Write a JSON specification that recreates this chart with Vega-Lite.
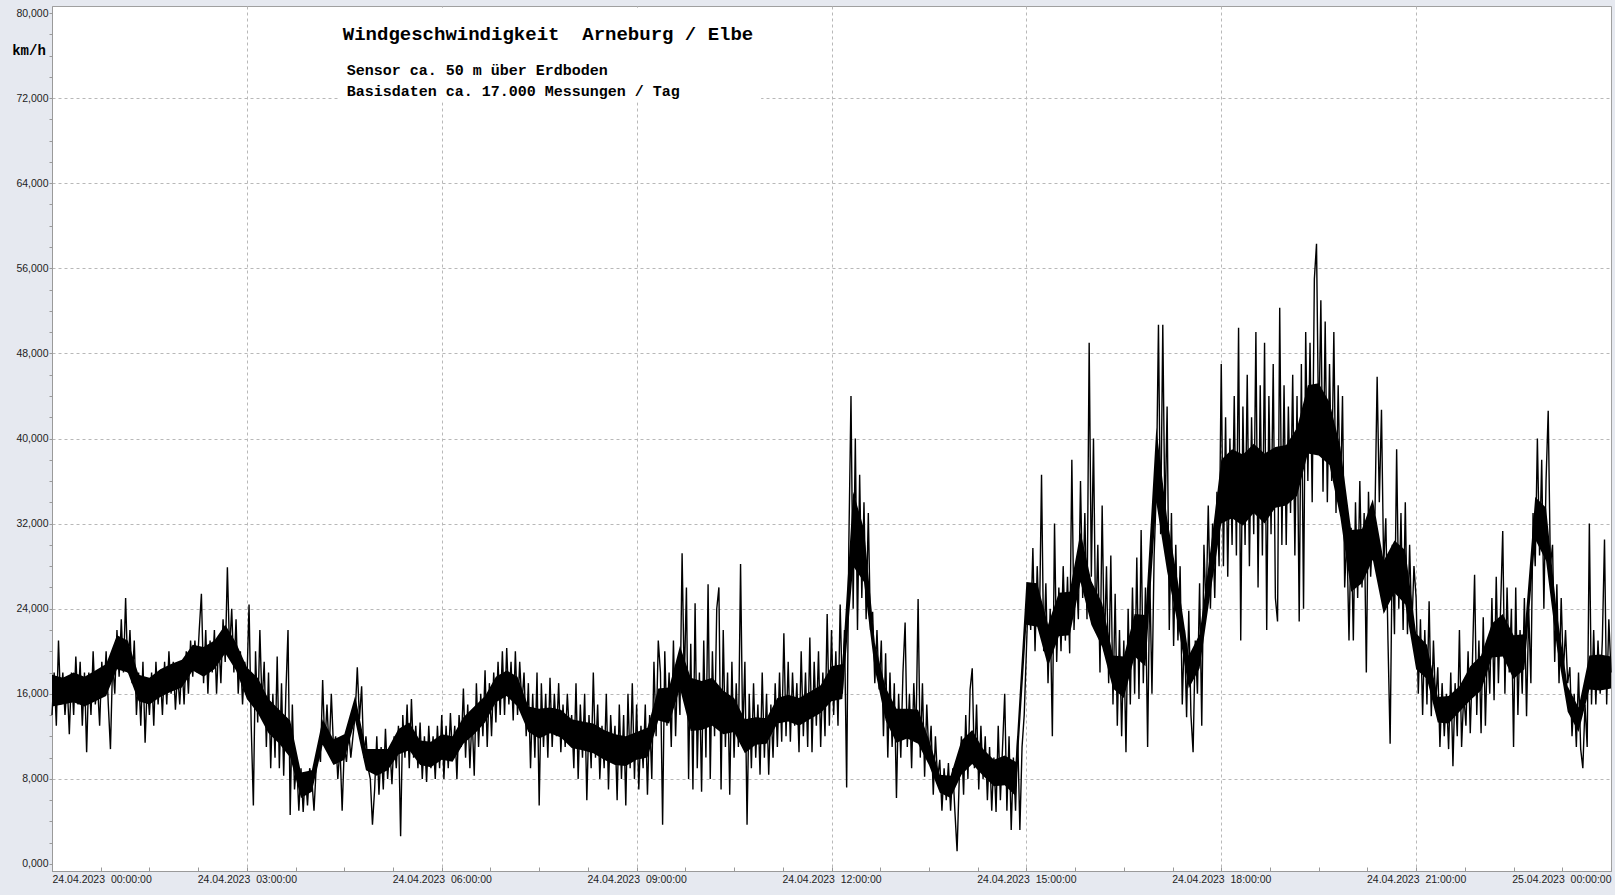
{
"$schema": "https://vega.github.io/schema/vega-lite/v6.json",
"width": 1559, "height": 865,
"autosize": {"type": "none"},
"padding": {"left": 52, "top": 6, "right": 4, "bottom": 24},
"background": "#e6e9f0",
"config": {"view": {"stroke": "#a0a0a0", "fill": "#ffffff"}},
"encoding": {
 "x": {"field": "m", "type": "quantitative", "scale": {"domain": [0, 1440], "nice": false, "zero": false},
  "axis": {"values": [0,45,90,135,180,225,270,315,360,405,450,495,540,585,630,675,720,765,810,855,900,945,990,1035,1080,1125,1170,1215,1260,1305,1350,1395,1440],
   "labelExpr": "datum.value % 180 != 0 ? '' : (datum.value == 1440 ? '25.04.2023\u00a0 00:00:00' : '24.04.2023\u00a0 ' + (datum.value < 600 ? '0' : '') + (datum.value/60) + ':00:00')",
   "grid": true, "gridOpacity": {"condition": {"test": "datum.value % 180 == 0 && datum.value > 0 && datum.value < 1440", "value": 1}, "value": 0},
   "gridDash": [3,3], "gridColor": "#b8b8b8", "tickSize": -4, "tickColor": "#9a9a9a", "domainColor": "#9a9a9a",
   "labelFont": "Liberation Sans", "labelFontSize": 10.5, "labelColor": "#222222", "labelPadding": 7, "labelFlush": true, "labelOverlap": false, "title": null}},
 "y": {"field": "v", "type": "quantitative", "scale": {"domain": [-0.66, 80.66], "nice": false, "zero": false},
  "axis": {"values": [0,2,4,6,8,10,12,14,16,18,20,22,24,26,28,30,32,34,36,38,40,42,44,46,48,50,52,54,56,58,60,62,64,66,68,70,72,74,76,78,80],
   "labelExpr": "datum.value % 8 == 0 ? replace(format(datum.value, '.3f'), '.', ',') : ''",
   "grid": true, "gridOpacity": {"condition": {"test": "datum.value % 8 == 0 && datum.value > 0 && datum.value < 80", "value": 1}, "value": 0},
   "gridDash": [3,3], "gridColor": "#b8b8b8", "tickSize": 3, "tickColor": "#9a9a9a", "domainColor": "#9a9a9a",
   "labelFont": "Liberation Sans", "labelFontSize": 10.5, "labelColor": "#222222", "labelPadding": 1, "labelOverlap": false,
   "title": "km/h", "titleFont": "Liberation Mono", "titleFontSize": 14, "titleFontWeight": "bold", "titleColor": "#000000",
   "titleAngle": 0, "titleX": -23.5, "titleY": 44.7, "titleAlign": "center", "titleBaseline": "middle"}}
},
"layer": [
 {"data": {"values": [{"m": 266, "m2": 655, "v": 71.6, "v2": 80.5}]},
  "mark": {"type": "rect", "fill": "#ffffff"},
  "encoding": {"x2": {"field": "m2"}, "y2": {"field": "v2"}}},
 {"data": {"values": [
{"m":0,"v":14.8,"v2":17.8},{"m":10,"v":15,"v2":17.5},{"m":20,"v":15.2,"v2":18},{"m":30,"v":14.8,"v2":17.6},{"m":40,"v":15.3,"v2":18.2},{"m":50,"v":15.8,"v2":18.8},{"m":60,"v":18.3,"v2":21.5},{"m":70,"v":18,"v2":21},{"m":80,"v":15.3,"v2":17.8},{"m":90,"v":15,"v2":17.5},{"m":100,"v":15.7,"v2":18.3},{"m":110,"v":16.2,"v2":18.8},{"m":120,"v":16.6,"v2":19.2},{"m":130,"v":18.2,"v2":20.6},{"m":140,"v":17.6,"v2":20.4},{"m":150,"v":18.3,"v2":21},{"m":160,"v":19.8,"v2":22.5},{"m":170,"v":18.2,"v2":20.8},{"m":180,"v":15.5,"v2":18.5},{"m":190,"v":14.2,"v2":17.5},{"m":200,"v":12.3,"v2":15.5},{"m":210,"v":11.3,"v2":14.5},{"m":220,"v":10,"v2":13.5},{"m":230,"v":6.2,"v2":8.6},
{"m":240,"v":6.8,"v2":8.8},{"m":250,"v":11.2,"v2":13.6},{"m":260,"v":9.3,"v2":11.7},{"m":270,"v":9.8,"v2":12.2},{"m":280,"v":13.5,"v2":15.8},{"m":290,"v":8.8,"v2":10.8},{"m":300,"v":8.3,"v2":10.8},{"m":310,"v":8.8,"v2":10.8},{"m":320,"v":10.3,"v2":12.7},{"m":330,"v":10.7,"v2":13.3},{"m":340,"v":9.3,"v2":11.6},{"m":350,"v":9.1,"v2":11.5},{"m":360,"v":9.8,"v2":12.2},{"m":370,"v":9.6,"v2":12},{"m":380,"v":11.3,"v2":13.8},{"m":390,"v":12.2,"v2":14.8},{"m":400,"v":13.3,"v2":15.8},{"m":410,"v":15.2,"v2":17.6},{"m":420,"v":15.8,"v2":18.2},{"m":430,"v":14.8,"v2":17.6},{"m":440,"v":12.4,"v2":14.8},{"m":450,"v":11.8,"v2":14.6},{"m":460,"v":12.3,"v2":14.7},{"m":470,"v":11.9,"v2":14.5},
{"m":480,"v":10.9,"v2":13.6},{"m":490,"v":10.7,"v2":13.4},{"m":500,"v":10.4,"v2":13.2},{"m":510,"v":9.8,"v2":12.6},{"m":520,"v":9.3,"v2":12.2},{"m":530,"v":9.2,"v2":12},{"m":540,"v":9.8,"v2":12.4},{"m":550,"v":10,"v2":12.8},{"m":560,"v":13.5,"v2":16.5},{"m":570,"v":13.2,"v2":16.6},{"m":580,"v":16.5,"v2":20.5},{"m":590,"v":12.5,"v2":17.5},{"m":600,"v":12.6,"v2":17.2},{"m":610,"v":13,"v2":17.5},{"m":620,"v":12.2,"v2":16.3},{"m":630,"v":12.4,"v2":15.6},{"m":640,"v":10.4,"v2":13.6},{"m":650,"v":11.2,"v2":13.8},{"m":660,"v":11.3,"v2":13.7},{"m":670,"v":13.2,"v2":15.6},{"m":680,"v":13.4,"v2":15.9},{"m":690,"v":13,"v2":15.6},{"m":700,"v":13.6,"v2":16.2},{"m":710,"v":14.2,"v2":16.8},
{"m":720,"v":15.3,"v2":18.6},{"m":730,"v":15.5,"v2":18.8},{"m":740,"v":28,"v2":35},{"m":750,"v":26.5,"v2":31.5},{"m":760,"v":18.3,"v2":20.8},{"m":770,"v":13.5,"v2":16.6},{"m":780,"v":11.4,"v2":14.6},{"m":790,"v":11.8,"v2":14.6},{"m":800,"v":11.3,"v2":14.5},{"m":810,"v":9.3,"v2":11.7},{"m":820,"v":6.7,"v2":8.4},{"m":830,"v":6.2,"v2":8.3},{"m":840,"v":8.4,"v2":11.6},{"m":850,"v":9.4,"v2":12.6},{"m":860,"v":8.3,"v2":10.8},{"m":870,"v":7.3,"v2":9.8},{"m":880,"v":7.4,"v2":10.2},{"m":890,"v":6.4,"v2":9.6},{"m":900,"v":22.5,"v2":26.5},{"m":910,"v":22.3,"v2":26.4},{"m":920,"v":18.6,"v2":22.5},{"m":930,"v":21.4,"v2":25.5},{"m":940,"v":21.5,"v2":25.6},{"m":950,"v":26.5,"v2":31.2},
{"m":960,"v":22.5,"v2":26.6},{"m":970,"v":20.4,"v2":24.5},{"m":980,"v":16.5,"v2":19.6},{"m":990,"v":15.6,"v2":19.5},{"m":1000,"v":19.5,"v2":23.5},{"m":1010,"v":18.6,"v2":23.4},{"m":1020,"v":34,"v2":41},{"m":1030,"v":27.5,"v2":32.5},{"m":1040,"v":22.5,"v2":26.5},{"m":1050,"v":16.5,"v2":19.6},{"m":1060,"v":18.4,"v2":21.6},{"m":1070,"v":25.5,"v2":29.5},{"m":1080,"v":32,"v2":38},{"m":1090,"v":32.5,"v2":39},{"m":1100,"v":31.8,"v2":38.5},{"m":1110,"v":33,"v2":39.5},{"m":1120,"v":32,"v2":38.6},{"m":1130,"v":33.5,"v2":39.2},{"m":1140,"v":33.7,"v2":39.4},{"m":1150,"v":34.6,"v2":41},{"m":1160,"v":38.6,"v2":45},{"m":1170,"v":38.4,"v2":45.2},{"m":1180,"v":37.5,"v2":43.4},{"m":1190,"v":32.6,"v2":39.2},
{"m":1200,"v":25.6,"v2":31.4},{"m":1210,"v":26.4,"v2":31.5},{"m":1220,"v":28.6,"v2":34.3},{"m":1230,"v":23.5,"v2":28.5},{"m":1240,"v":25.5,"v2":30.4},{"m":1250,"v":24.4,"v2":29.5},{"m":1260,"v":18.3,"v2":21.7},{"m":1270,"v":17.4,"v2":20.6},{"m":1280,"v":13.3,"v2":15.7},{"m":1290,"v":13.2,"v2":15.8},{"m":1300,"v":14.3,"v2":16.7},{"m":1310,"v":15.4,"v2":18.6},{"m":1320,"v":16.3,"v2":19.6},{"m":1330,"v":19.4,"v2":22.6},{"m":1340,"v":19.5,"v2":23.5},{"m":1350,"v":17.4,"v2":21.5},{"m":1360,"v":18.3,"v2":21.6},{"m":1370,"v":30.5,"v2":34.5},{"m":1380,"v":28.5,"v2":33.5},{"m":1390,"v":20.4,"v2":23.6},{"m":1400,"v":14.3,"v2":16.7},{"m":1410,"v":12.4,"v2":14.7},{"m":1420,"v":16.4,"v2":19.6},{"m":1430,"v":16.3,"v2":19.7},{"m":1440,"v":16.5,"v2":19.5}
 ]},
  "mark": {"type": "area", "color": "#000000", "opacity": 1},
  "encoding": {"y2": {"field": "v2"}}},
 {"data": {"values": [
{"m":0,"v":14},{"m":2,"v":18},{"m":4,"v":13},{"m":6,"v":21},{"m":8,"v":15},{"m":10,"v":18},{"m":12,"v":14},{"m":14,"v":17},{"m":16,"v":12.2},{"m":18,"v":18},{"m":20,"v":14},{"m":22,"v":19.5},{"m":24,"v":15},{"m":26,"v":19},{"m":28,"v":13},{"m":30,"v":18},{"m":32,"v":10.5},{"m":34,"v":18},{"m":36,"v":14},{"m":38,"v":20},{"m":40,"v":15},{"m":42,"v":17},{"m":44,"v":13},{"m":46,"v":19},{"m":48,"v":16},{"m":50,"v":20},{"m":52,"v":15},{"m":54,"v":10.8},{"m":56,"v":19},{"m":58,"v":16},
{"m":60,"v":22},{"m":62,"v":17.6},{"m":64,"v":23},{"m":66,"v":18},{"m":68,"v":25},{"m":70,"v":18},{"m":72,"v":22},{"m":74,"v":17},{"m":76,"v":21},{"m":78,"v":14},{"m":80,"v":18},{"m":82,"v":13},{"m":84,"v":19},{"m":86,"v":11.4},{"m":88,"v":17},{"m":90,"v":14},{"m":92,"v":18},{"m":94,"v":13},{"m":96,"v":19},{"m":98,"v":15},{"m":100,"v":18},{"m":102,"v":14},{"m":104,"v":19},{"m":106,"v":15},{"m":108,"v":20},{"m":110,"v":16},{"m":112,"v":19},{"m":114,"v":14.5},{"m":116,"v":18},{"m":118,"v":15},
{"m":120,"v":19},{"m":122,"v":15},{"m":124,"v":20},{"m":126,"v":16},{"m":128,"v":21},{"m":130,"v":17.6},{"m":132,"v":21},{"m":134,"v":18},{"m":136,"v":22},{"m":138,"v":25.4},{"m":140,"v":17},{"m":142,"v":22},{"m":144,"v":16},{"m":146,"v":21},{"m":148,"v":18},{"m":150,"v":22},{"m":152,"v":16},{"m":154,"v":21},{"m":156,"v":17},{"m":158,"v":23},{"m":160,"v":19},{"m":162,"v":27.9},{"m":164,"v":20},{"m":166,"v":24},{"m":168,"v":18},{"m":170,"v":23},{"m":172,"v":16},{"m":174,"v":20},{"m":176,"v":15},{"m":178,"v":19},
{"m":180,"v":17},{"m":182,"v":24.4},{"m":184,"v":13},{"m":186,"v":5.5},{"m":188,"v":20},{"m":190,"v":13.3},{"m":192,"v":22},{"m":194,"v":15},{"m":196,"v":19},{"m":198,"v":11},{"m":200,"v":18},{"m":202,"v":9},{"m":204,"v":16},{"m":206,"v":10},{"m":208,"v":19.5},{"m":210,"v":9},{"m":212,"v":17},{"m":214,"v":8.3},{"m":216,"v":16},{"m":218,"v":22},{"m":220,"v":4.6},{"m":222,"v":15},{"m":224,"v":7},{"m":226,"v":9.6},{"m":228,"v":5},{"m":230,"v":9},{"m":232,"v":4.9},{"m":234,"v":8.5},{"m":236,"v":5.5},{"m":238,"v":9},
{"m":240,"v":8},{"m":242,"v":5},{"m":244,"v":9},{"m":246,"v":11},{"m":248,"v":9.6},{"m":250,"v":17.3},{"m":252,"v":11},{"m":254,"v":15},{"m":256,"v":10.5},{"m":258,"v":16},{"m":260,"v":11},{"m":262,"v":12},{"m":264,"v":8},{"m":266,"v":11},{"m":268,"v":5},{"m":270,"v":11},{"m":272,"v":9.6},{"m":274,"v":12.7},{"m":276,"v":10},{"m":278,"v":12},{"m":280,"v":14},{"m":282,"v":18.5},{"m":284,"v":13.6},{"m":286,"v":16.7},{"m":288,"v":10},{"m":290,"v":12},{"m":292,"v":9},{"m":294,"v":8},{"m":296,"v":3.7},{"m":298,"v":7},
{"m":300,"v":12},{"m":302,"v":6.5},{"m":304,"v":11},{"m":306,"v":7},{"m":308,"v":12.7},{"m":310,"v":8},{"m":312,"v":11},{"m":314,"v":7.5},{"m":316,"v":12},{"m":318,"v":9},{"m":320,"v":13},{"m":322,"v":2.6},{"m":324,"v":14},{"m":326,"v":10},{"m":328,"v":15},{"m":330,"v":9},{"m":332,"v":15.5},{"m":334,"v":10},{"m":336,"v":13},{"m":338,"v":9},{"m":340,"v":13.3},{"m":342,"v":8},{"m":344,"v":12},{"m":346,"v":7.7},{"m":348,"v":13},{"m":350,"v":9},{"m":352,"v":12},{"m":354,"v":8},{"m":356,"v":13},{"m":358,"v":9},
{"m":360,"v":14},{"m":362,"v":8},{"m":364,"v":13},{"m":366,"v":9},{"m":368,"v":14.2},{"m":370,"v":10},{"m":372,"v":13},{"m":374,"v":8},{"m":376,"v":14},{"m":378,"v":11},{"m":380,"v":16.5},{"m":382,"v":10},{"m":384,"v":15},{"m":386,"v":9},{"m":388,"v":14},{"m":390,"v":8.3},{"m":392,"v":17},{"m":394,"v":11},{"m":396,"v":16},{"m":398,"v":12},{"m":400,"v":18.2},{"m":402,"v":11},{"m":404,"v":17},{"m":406,"v":12},{"m":408,"v":18},{"m":410,"v":13.3},{"m":412,"v":19},{"m":414,"v":14},{"m":416,"v":20},{"m":418,"v":14},
{"m":420,"v":20.3},{"m":422,"v":15},{"m":424,"v":19},{"m":426,"v":13.5},{"m":428,"v":20},{"m":430,"v":14},{"m":432,"v":19},{"m":434,"v":15},{"m":436,"v":18},{"m":438,"v":12},{"m":440,"v":17},{"m":442,"v":9},{"m":444,"v":16},{"m":446,"v":10},{"m":448,"v":18},{"m":450,"v":5.5},{"m":452,"v":17},{"m":454,"v":11},{"m":456,"v":16},{"m":458,"v":10},{"m":460,"v":17.5},{"m":462,"v":11},{"m":464,"v":16},{"m":466,"v":12},{"m":468,"v":17},{"m":470,"v":10.5},{"m":472,"v":15},{"m":474,"v":11},{"m":476,"v":16},{"m":478,"v":12},
{"m":480,"v":14},{"m":482,"v":9},{"m":484,"v":17},{"m":486,"v":8},{"m":488,"v":15},{"m":490,"v":10},{"m":492,"v":16},{"m":494,"v":6},{"m":496,"v":14},{"m":498,"v":9},{"m":500,"v":18},{"m":502,"v":10},{"m":504,"v":15},{"m":506,"v":8},{"m":508,"v":13},{"m":510,"v":9},{"m":512,"v":16},{"m":514,"v":7},{"m":516,"v":14},{"m":518,"v":10},{"m":520,"v":13},{"m":522,"v":6},{"m":524,"v":15},{"m":526,"v":8},{"m":528,"v":14},{"m":530,"v":5.5},{"m":532,"v":16},{"m":534,"v":9},{"m":536,"v":17},{"m":538,"v":8},
{"m":540,"v":15},{"m":542,"v":7},{"m":544,"v":13},{"m":546,"v":9},{"m":548,"v":15},{"m":550,"v":6.5},{"m":552,"v":14},{"m":554,"v":8},{"m":556,"v":19},{"m":558,"v":12},{"m":560,"v":21},{"m":562,"v":18},{"m":564,"v":3.7},{"m":566,"v":20},{"m":568,"v":13},{"m":570,"v":18},{"m":572,"v":11},{"m":574,"v":21},{"m":576,"v":12},{"m":578,"v":19},{"m":580,"v":14},{"m":582,"v":29.2},{"m":584,"v":17},{"m":586,"v":26},{"m":588,"v":8},{"m":590,"v":20.7},{"m":592,"v":7},{"m":594,"v":24.5},{"m":596,"v":9},{"m":598,"v":18},
{"m":600,"v":6.8},{"m":602,"v":21},{"m":604,"v":10},{"m":606,"v":26.3},{"m":608,"v":8},{"m":610,"v":20},{"m":612,"v":12},{"m":614,"v":24},{"m":616,"v":26},{"m":618,"v":7},{"m":620,"v":22},{"m":622,"v":11},{"m":624,"v":18},{"m":626,"v":6.5},{"m":628,"v":19},{"m":630,"v":10},{"m":632,"v":17},{"m":634,"v":11},{"m":636,"v":28.2},{"m":638,"v":12},{"m":640,"v":19},{"m":642,"v":3.7},{"m":644,"v":16},{"m":646,"v":9},{"m":648,"v":17},{"m":650,"v":10},{"m":652,"v":15},{"m":654,"v":8.4},{"m":656,"v":18},{"m":658,"v":10},
{"m":660,"v":16},{"m":662,"v":8.4},{"m":664,"v":15},{"m":666,"v":10},{"m":668,"v":17},{"m":670,"v":11},{"m":672,"v":18},{"m":674,"v":11.5},{"m":676,"v":21.7},{"m":678,"v":12},{"m":680,"v":19},{"m":682,"v":11.5},{"m":684,"v":18},{"m":686,"v":13},{"m":688,"v":17},{"m":690,"v":10.5},{"m":692,"v":20},{"m":694,"v":12},{"m":696,"v":18},{"m":698,"v":11},{"m":700,"v":21.3},{"m":702,"v":10.5},{"m":704,"v":19},{"m":706,"v":13},{"m":708,"v":20},{"m":710,"v":11},{"m":712,"v":18},{"m":714,"v":12},{"m":716,"v":23.5},{"m":718,"v":13},
{"m":720,"v":22},{"m":722,"v":14},{"m":724,"v":20},{"m":726,"v":13},{"m":728,"v":24.4},{"m":730,"v":16},{"m":732,"v":22},{"m":734,"v":7.2},{"m":736,"v":30},{"m":738,"v":44},{"m":740,"v":24},{"m":742,"v":40},{"m":744,"v":22},{"m":746,"v":36.6},{"m":748,"v":25},{"m":750,"v":34},{"m":752,"v":23},{"m":754,"v":33},{"m":756,"v":22},{"m":758,"v":23.7},{"m":760,"v":17},{"m":762,"v":22},{"m":764,"v":16.4},{"m":766,"v":21},{"m":768,"v":12},{"m":770,"v":19.8},{"m":772,"v":10},{"m":774,"v":18},{"m":776,"v":11},{"m":778,"v":17},
{"m":780,"v":6.2},{"m":782,"v":16},{"m":784,"v":10},{"m":786,"v":18},{"m":788,"v":22.7},{"m":790,"v":11},{"m":792,"v":16},{"m":794,"v":9},{"m":796,"v":17},{"m":798,"v":12},{"m":800,"v":24.9},{"m":802,"v":10},{"m":804,"v":17},{"m":806,"v":8.2},{"m":808,"v":15},{"m":810,"v":10},{"m":812,"v":13},{"m":814,"v":6.5},{"m":816,"v":12},{"m":818,"v":8},{"m":820,"v":9.8},{"m":822,"v":5},{"m":824,"v":9},{"m":826,"v":6},{"m":828,"v":9.5},{"m":830,"v":5},{"m":832,"v":9},{"m":834,"v":4.9},{"m":836,"v":1.2},{"m":838,"v":8},
{"m":840,"v":12},{"m":842,"v":6.5},{"m":844,"v":14},{"m":846,"v":8},{"m":848,"v":16.4},{"m":850,"v":18.4},{"m":852,"v":9},{"m":854,"v":15},{"m":856,"v":7},{"m":858,"v":13},{"m":860,"v":8},{"m":862,"v":12},{"m":864,"v":6},{"m":866,"v":11},{"m":868,"v":5},{"m":870,"v":10},{"m":872,"v":4.9},{"m":874,"v":13},{"m":876,"v":6},{"m":878,"v":11},{"m":880,"v":16},{"m":882,"v":5},{"m":884,"v":12},{"m":886,"v":3.2},{"m":888,"v":10},{"m":890,"v":5},{"m":892,"v":12},{"m":894,"v":3.2},{"m":896,"v":11},{"m":898,"v":14},
{"m":900,"v":20},{"m":902,"v":26},{"m":904,"v":22},{"m":906,"v":29.7},{"m":908,"v":20},{"m":910,"v":28},{"m":912,"v":22},{"m":914,"v":36.6},{"m":916,"v":20},{"m":918,"v":26.4},{"m":920,"v":17},{"m":922,"v":24},{"m":924,"v":12},{"m":926,"v":32},{"m":928,"v":19},{"m":930,"v":26},{"m":932,"v":20},{"m":934,"v":28},{"m":936,"v":21},{"m":938,"v":27},{"m":940,"v":19.8},{"m":942,"v":38},{"m":944,"v":22},{"m":946,"v":28},{"m":948,"v":23},{"m":950,"v":36},{"m":952,"v":25},{"m":954,"v":33},{"m":956,"v":23},{"m":958,"v":49},
{"m":960,"v":27},{"m":962,"v":40},{"m":964,"v":22},{"m":966,"v":30},{"m":968,"v":18},{"m":970,"v":33.7},{"m":972,"v":20},{"m":974,"v":28},{"m":976,"v":17},{"m":978,"v":29},{"m":980,"v":15},{"m":982,"v":25.4},{"m":984,"v":13},{"m":986,"v":22},{"m":988,"v":12},{"m":990,"v":21},{"m":992,"v":10.5},{"m":994,"v":24},{"m":996,"v":15},{"m":998,"v":26},{"m":1000,"v":16},{"m":1002,"v":28.8},{"m":1004,"v":15.5},{"m":1006,"v":31.4},{"m":1008,"v":17},{"m":1010,"v":26},{"m":1012,"v":11},{"m":1014,"v":27},{"m":1016,"v":16},{"m":1018,"v":29},
{"m":1020,"v":35},{"m":1022,"v":50.7},{"m":1024,"v":31},{"m":1026,"v":50.7},{"m":1028,"v":32},{"m":1030,"v":43},{"m":1032,"v":22},{"m":1034,"v":33},{"m":1036,"v":20.5},{"m":1038,"v":30},{"m":1040,"v":21},{"m":1042,"v":28},{"m":1044,"v":15},{"m":1046,"v":22},{"m":1048,"v":13.8},{"m":1050,"v":23.8},{"m":1052,"v":14},{"m":1054,"v":10.5},{"m":1056,"v":21},{"m":1058,"v":16},{"m":1060,"v":26.4},{"m":1062,"v":13},{"m":1064,"v":30},{"m":1066,"v":23.8},{"m":1068,"v":33.7},{"m":1070,"v":24},{"m":1072,"v":32},{"m":1074,"v":25},{"m":1076,"v":35},{"m":1078,"v":28},
{"m":1080,"v":47},{"m":1082,"v":28},{"m":1084,"v":42},{"m":1086,"v":27},{"m":1088,"v":40},{"m":1090,"v":30},{"m":1092,"v":44},{"m":1094,"v":29},{"m":1096,"v":50.4},{"m":1098,"v":21},{"m":1100,"v":43},{"m":1102,"v":30},{"m":1104,"v":46},{"m":1106,"v":28},{"m":1108,"v":42},{"m":1110,"v":31},{"m":1112,"v":50},{"m":1114,"v":26},{"m":1116,"v":45},{"m":1118,"v":29},{"m":1120,"v":49},{"m":1122,"v":22},{"m":1124,"v":44},{"m":1126,"v":31},{"m":1128,"v":47},{"m":1130,"v":25},{"m":1132,"v":22.8},{"m":1134,"v":52.3},{"m":1136,"v":30},{"m":1138,"v":45},
{"m":1140,"v":30},{"m":1142,"v":43},{"m":1144,"v":33},{"m":1146,"v":46},{"m":1148,"v":29},{"m":1150,"v":44},{"m":1152,"v":22.8},{"m":1154,"v":47},{"m":1156,"v":24},{"m":1158,"v":50},{"m":1160,"v":36},{"m":1162,"v":49},{"m":1164,"v":34},{"m":1166,"v":55},{"m":1168,"v":58.3},{"m":1170,"v":40},{"m":1172,"v":53},{"m":1174,"v":35},{"m":1176,"v":51},{"m":1178,"v":34},{"m":1180,"v":47},{"m":1182,"v":36},{"m":1184,"v":50},{"m":1186,"v":33},{"m":1188,"v":45},{"m":1190,"v":34},{"m":1192,"v":44},{"m":1194,"v":26},{"m":1196,"v":31},{"m":1198,"v":21},
{"m":1200,"v":31.6},{"m":1202,"v":21},{"m":1204,"v":34},{"m":1206,"v":25},{"m":1208,"v":36},{"m":1210,"v":26},{"m":1212,"v":33},{"m":1214,"v":18},{"m":1216,"v":35},{"m":1218,"v":27},{"m":1220,"v":32},{"m":1222,"v":33},{"m":1224,"v":45.8},{"m":1226,"v":34},{"m":1228,"v":42.7},{"m":1230,"v":28},{"m":1232,"v":32.5},{"m":1234,"v":21},{"m":1236,"v":11.3},{"m":1238,"v":30},{"m":1240,"v":21.6},{"m":1242,"v":39},{"m":1244,"v":24},{"m":1246,"v":33},{"m":1248,"v":22},{"m":1250,"v":34},{"m":1252,"v":21.6},{"m":1254,"v":30},{"m":1256,"v":22},{"m":1258,"v":28},
{"m":1260,"v":25},{"m":1262,"v":16},{"m":1264,"v":23},{"m":1266,"v":14},{"m":1268,"v":22},{"m":1270,"v":15},{"m":1272,"v":24.7},{"m":1274,"v":13.9},{"m":1276,"v":21},{"m":1278,"v":15},{"m":1280,"v":18.5},{"m":1282,"v":11},{"m":1284,"v":17},{"m":1286,"v":12},{"m":1288,"v":16},{"m":1290,"v":10.8},{"m":1292,"v":18},{"m":1294,"v":9.2},{"m":1296,"v":17},{"m":1298,"v":12},{"m":1300,"v":22},{"m":1302,"v":11},{"m":1304,"v":16},{"m":1306,"v":13},{"m":1308,"v":20},{"m":1310,"v":12.3},{"m":1312,"v":19},{"m":1314,"v":27.2},{"m":1316,"v":14},{"m":1318,"v":21},
{"m":1320,"v":12.3},{"m":1322,"v":23.2},{"m":1324,"v":13},{"m":1326,"v":21},{"m":1328,"v":16},{"m":1330,"v":25},{"m":1332,"v":15.4},{"m":1334,"v":27},{"m":1336,"v":17},{"m":1338,"v":24},{"m":1340,"v":31.3},{"m":1342,"v":16},{"m":1344,"v":26},{"m":1346,"v":18},{"m":1348,"v":24},{"m":1350,"v":11},{"m":1352,"v":26},{"m":1354,"v":14},{"m":1356,"v":22},{"m":1358,"v":16},{"m":1360,"v":25},{"m":1362,"v":13.9},{"m":1364,"v":24},{"m":1366,"v":17},{"m":1368,"v":33},{"m":1370,"v":28},{"m":1372,"v":40},{"m":1374,"v":29},{"m":1376,"v":38},{"m":1378,"v":24},
{"m":1380,"v":36},{"m":1382,"v":42.6},{"m":1384,"v":28},{"m":1386,"v":30},{"m":1388,"v":19},{"m":1390,"v":26.3},{"m":1392,"v":17},{"m":1394,"v":25},{"m":1396,"v":18},{"m":1398,"v":22},{"m":1400,"v":17},{"m":1402,"v":18.5},{"m":1404,"v":12},{"m":1406,"v":16},{"m":1408,"v":11},{"m":1410,"v":18},{"m":1412,"v":10.8},{"m":1414,"v":9},{"m":1416,"v":15},{"m":1418,"v":11},{"m":1420,"v":32},{"m":1422,"v":15},{"m":1424,"v":22},{"m":1426,"v":15},{"m":1428,"v":21},{"m":1430,"v":16},{"m":1432,"v":21},{"m":1434,"v":30.5},{"m":1436,"v":15},{"m":1438,"v":23},{"m":1440,"v":18}
 ]},
  "mark": {"type": "line", "color": "#000000", "strokeWidth": 1.4}},
 {"data": {"values": [{"m": 268.6, "v": 77.51, "t": "Windgeschwindigkeit\u00a0 Arneburg / Elbe"}]},
  "mark": {"type": "text", "font": "Liberation Mono", "fontSize": 19, "fontWeight": "bold", "align": "left", "baseline": "alphabetic", "color": "#000000"},
  "encoding": {"text": {"field": "t"}}},
 {"data": {"values": [{"m": 272.3, "v": 74.17, "t": "Sensor ca. 50 m über Erdboden"}, {"m": 272.3, "v": 72.23, "t": "Basisdaten ca. 17.000 Messungen / Tag"}]},
  "mark": {"type": "text", "font": "Liberation Mono", "fontSize": 15, "fontWeight": "bold", "align": "left", "baseline": "alphabetic", "color": "#000000"},
  "encoding": {"text": {"field": "t"}}}
]
}
